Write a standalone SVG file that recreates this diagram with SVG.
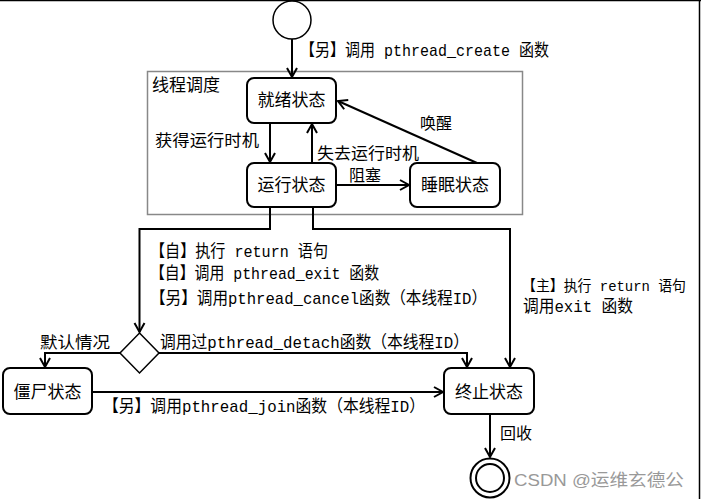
<svg xmlns="http://www.w3.org/2000/svg" width="701" height="499" viewBox="0 0 701 499">
<defs>
<style>
.t{font-family:"Liberation Mono","Noto Sans CJK SC",monospace;font-size:17px;fill:#000}
.c{font-family:"Noto Sans CJK SC",sans-serif;font-size:16px;fill:#000}
.n{font-family:"Noto Sans CJK SC",sans-serif;font-size:17px;fill:#000;text-anchor:middle}
.box{fill:#fff;stroke:#000;stroke-width:2}
.ln{fill:none;stroke:#000;stroke-width:2}
</style>
<marker id="ah" markerUnits="userSpaceOnUse" markerWidth="14" markerHeight="14" refX="10" refY="6" orient="auto">
<path d="M1,1 L10,6 L1,11" fill="none" stroke="#000" stroke-width="2"/>
</marker>
</defs>
<rect width="701" height="499" fill="#fff"/>
<line x1="0" y1="0.5" x2="701" y2="0.5" stroke="#000" stroke-width="1.5"/>
<line x1="699.5" y1="0" x2="699.5" y2="499" stroke="#000" stroke-width="1.5"/>

<g id="container">
<rect x="147.5" y="71.5" width="375" height="143" fill="none" stroke="#888" stroke-width="1.5"/>
<text class="c" x="152" y="91" style="font-size:17px">线程调度</text>
</g>

<g id="connectors">
<path class="ln" d="M292,39 V77" marker-end="url(#ah)"/>
<path class="ln" d="M270,123 V162" marker-end="url(#ah)"/>
<path class="ln" d="M312,163 V124" marker-end="url(#ah)"/>
<path class="ln" d="M336,185 H409" marker-end="url(#ah)"/>
<path class="ln" d="M477,163 L338,101" marker-end="url(#ah)"/>
<path class="ln" d="M270,207 V229 H139.5 V332" marker-end="url(#ah)"/>
<path class="ln" d="M313,207 V229 H510 V367" marker-end="url(#ah)"/>
<path class="ln" d="M120,353 H45 V367" marker-end="url(#ah)"/>
<path class="ln" d="M159,353 H467 V367" marker-end="url(#ah)"/>
<path class="ln" d="M92,392 H443" marker-end="url(#ah)"/>
<path class="ln" d="M490,414 V457" marker-end="url(#ah)"/>
<text class="t" x="300" y="56" textLength="249" lengthAdjust="spacingAndGlyphs">【另】调用 pthread_create 函数</text>
<text class="c" x="155" y="146" textLength="104" lengthAdjust="spacingAndGlyphs">获得运行时机</text>
<text class="c" x="317" y="159" textLength="102" lengthAdjust="spacingAndGlyphs">失去运行时机</text>
<text class="c" x="349" y="181">阻塞</text>
<text class="c" x="420" y="129">唤醒</text>
<text class="t" x="150" y="257" textLength="178" lengthAdjust="spacingAndGlyphs">【自】执行 return 语句</text>
<text class="t" x="150" y="279" textLength="229" lengthAdjust="spacingAndGlyphs">【自】调用 pthread_exit 函数</text>
<text class="t" x="150" y="304" textLength="337" lengthAdjust="spacingAndGlyphs">【另】调用pthread_cancel函数（本线程ID）</text>
<text class="t" x="522" y="291" style="font-size:15px" textLength="164" lengthAdjust="spacingAndGlyphs">【主】执行 return 语句</text>
<text class="t" x="523" y="312" textLength="110" lengthAdjust="spacingAndGlyphs">调用exit 函数</text>
<text class="c" x="40" y="348" textLength="70" lengthAdjust="spacingAndGlyphs">默认情况</text>
<text class="t" x="160" y="348" textLength="309" lengthAdjust="spacingAndGlyphs">调用过pthread_detach函数（本线程ID）</text>
<text class="t" x="103" y="412" textLength="322" lengthAdjust="spacingAndGlyphs">【另】调用pthread_join函数（本线程ID）</text>
<text class="c" x="500" y="439">回收</text>
</g>

<g id="start">
<circle cx="292" cy="20" r="19" fill="#fff" stroke="#000" stroke-width="1.5"/>
</g>
<g id="ready">
<rect class="box" x="247" y="78" width="89" height="45" rx="7"/>
<text class="n" x="291.5" y="106">就绪状态</text>
</g>
<g id="running">
<rect class="box" x="247" y="163" width="89" height="44" rx="7"/>
<text class="n" x="291.5" y="191">运行状态</text>
</g>
<g id="sleeping">
<rect class="box" x="410" y="163" width="90" height="44" rx="7"/>
<text class="n" x="455" y="191">睡眠状态</text>
</g>
<g id="decision">
<polygon points="139.5,333 159,353 139.5,373 120,353" fill="#fff" stroke="#000" stroke-width="1.5"/>
</g>
<g id="zombie">
<rect class="box" x="3" y="368" width="89" height="46" rx="7"/>
<text class="n" x="47.5" y="398">僵尸状态</text>
</g>
<g id="terminated">
<rect class="box" x="444" y="368" width="90" height="46" rx="7"/>
<text class="n" x="489" y="398">终止状态</text>
</g>
<g id="end">
<circle cx="490" cy="478" r="19.5" fill="#fff" stroke="#000" stroke-width="2"/>
<circle cx="490" cy="478" r="14" fill="#fff" stroke="#000" stroke-width="2"/>
</g>
<text x="514" y="486" font-family="'Liberation Sans','Noto Sans CJK SC',sans-serif" font-size="17" fill="#999" textLength="170" lengthAdjust="spacingAndGlyphs">CSDN @运维玄德公</text>
</svg>
